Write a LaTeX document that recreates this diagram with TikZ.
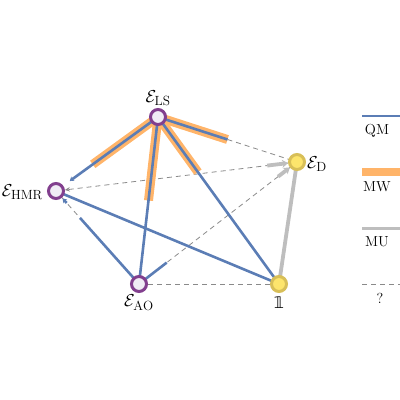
\documentclass[tikz,border=0pt]{standalone}
\usepackage{fontspec}
\newfontfamily\dejavu{DejaVu Sans}
\usetikzlibrary{arrows.meta,calc}
\definecolor{qmblue}{HTML}{5B7DB5}
\definecolor{mworange}{HTML}{FFB469}
\definecolor{mugray}{HTML}{BEBEBE}
\definecolor{dashgray}{HTML}{8A8A8A}
\definecolor{ringpurple}{HTML}{823F8E}
\definecolor{fillpurple}{HTML}{F0ECF5}
\definecolor{ringyellow}{HTML}{D8BF58}
\definecolor{fillyellow}{HTML}{FDE56C}
\pgfdeclarelayer{bg}
\pgfsetlayers{bg,main}
\tikzset{
 pnode/.style={circle, draw=ringpurple, fill=fillpurple, line width=3pt, minimum size=15pt, inner sep=0pt},
 ynode/.style={circle, draw=ringyellow, fill=fillyellow, line width=3pt, minimum size=15pt, inner sep=0pt},
 qm/.style={draw=qmblue, line width=2.6pt},
 mw/.style={draw=mworange, line width=9pt},
 mu/.style={draw=mugray, line width=3.8pt},
 unk/.style={draw=dashgray, line width=0.8pt, dash pattern=on 5pt off 4pt},
 qmtip/.style={-{Stealth[length=4pt,width=5.5pt]}},
 mutip/.style={-{Stealth[length=6pt,width=8pt]}},
 unktip/.style={-{Stealth[length=5pt,width=4.5pt]}},
 lab/.style={inner sep=0pt, font=\fontsize{19}{23}\selectfont},
 leg/.style={inner sep=0pt, font=\fontsize{14.5}{16}\selectfont},
}
\begin{document}
\begin{tikzpicture}[x=1pt,y=-1pt]
\useasboundingbox (0,0) rectangle (400,400);
% nodes
\node[pnode] (LS) at (158,117) {};
\node[ynode] (D) at (297,162) {};
\node[pnode] (HMR) at (56,191) {};
\node[pnode] (AO) at (139,284) {};
\node[ynode] (one) at (279,284) {};
% labels
\node[lab] (lLS) at (158,98) {$\mathcal{E}_{\mathrm{LS}}$};
\node[lab,anchor=west] (lD) at (307,164) {$\mathcal{E}_{\mathrm{D}}$};
\node[lab,anchor=east] (lHMR) at (43,192) {$\mathcal{E}_{\mathrm{HMR}}$};
\node[lab] (lAO) at (139,303) {$\mathcal{E}_{\mathrm{AO}}$};
\node[lab] (lone) at (279,303) {\fontsize{16}{18}\selectfont\dejavu 𝟙};
\begin{pgfonlayer}{bg}
% dashed relations
\draw[unk] (HMR.center) -- (AO.center);
\draw[unk] (AO.center) -- (one.center);
\draw[unk] (AO.center) -- (D.center);
\draw[unk] ($(LS)!0.5!(D)$) -- (D.center);
\draw[unk,unktip] (D.center) -- (HMR);
% orange bands
\draw[mw] (LS.center) -- ($(LS)!0.64!(HMR)$);
\draw[mw] (LS.center) -- ($(LS)!0.50!(AO)$);
\draw[mw] (LS.center) -- ($(LS)!0.33!(one)$);
\draw[mw] (LS.center) -- ($(LS)!0.50!(D)$);
% gray
\draw[mu] (one.center) -- (D.center);
\draw[mu,mutip] ($(D)!30pt!(HMR)$) -- (D);
\draw[mu,mutip] ($(D)!24pt!(AO)$) -- (D);
% blue
\draw[qm,qmtip] (LS.center) -- ($(HMR)!17pt!(LS)$);
\draw[qm] (LS.center) -- (AO.center);
\draw[qm] (LS.center) -- (one.center);
\draw[qm] (LS.center) -- ($(LS)!0.5!(D)$);
\draw[qm] (HMR.center) -- (one.center);
\draw[qm] (AO.center) -- ($(HMR)!36pt!(AO)$);
\draw[qm,qmtip] ($(HMR)!16pt!(AO)$) -- ($(HMR)!10pt!(AO)$);
\draw[qm] (AO.center) -- ($(AO)!35pt!(D)$);
\end{pgfonlayer}
% legend
\coordinate (q1) at (362,116); \coordinate (q2) at (405,116);
\coordinate (w1) at (362,172); \coordinate (w2) at (405,172);
\coordinate (u1) at (362,228); \coordinate (u2) at (405,228);
\coordinate (k1) at (362,284); \coordinate (k2) at (405,284);
\draw[qm,line width=2pt] (q1) -- (q2);
\draw[mw,line width=8pt] (w1) -- (w2);
\draw[mu,line width=3pt] (u1) -- (u2);
\draw[unk] (k1) -- (k2);
\node[leg] (tq) at (377,131) {QM};
\node[leg] (tw) at (377,187) {MW};
\node[leg] (tu) at (377,242) {MU};
\node[leg] (tk) at (380,298) {?};
\end{tikzpicture}
\end{document}
